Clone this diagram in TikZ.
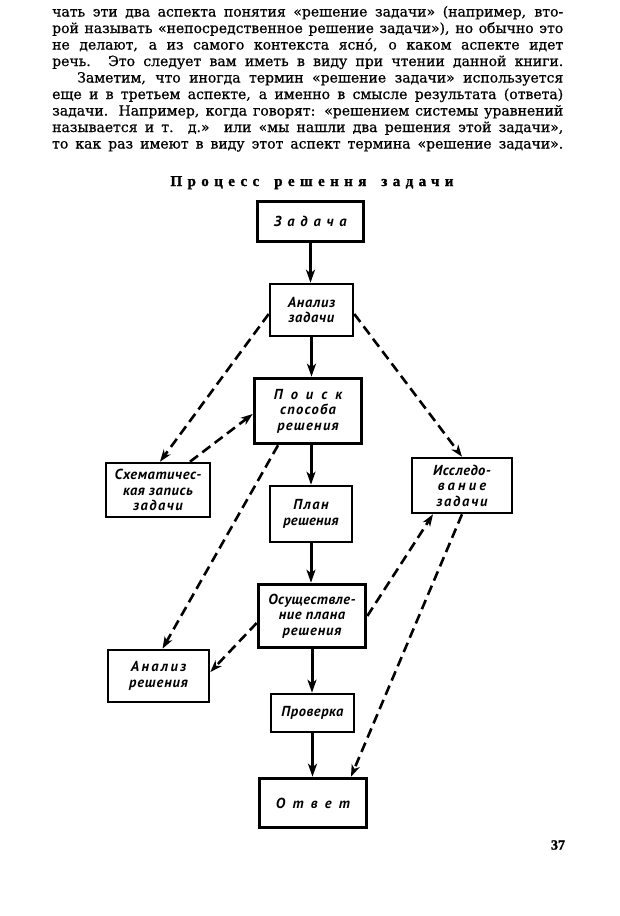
\documentclass[tikz,border=0pt]{standalone}
\usepackage{fontspec}
\setmainfont{DejaVu Serif}[FakeBold=0.7]
\newfontfamily\titlefont{Liberation Serif}[FakeBold=1.5]
\newfontfamily\boxfont{PT Sans}
\usetikzlibrary{arrows.meta}
\newcommand{\lsp}[2]{{\addfontfeature{LetterSpace=#1}#2}}
\begin{document}
\begin{tikzpicture}[x=1pt,y=-1pt,
  txt/.style={anchor=base west,inner sep=0pt,font=\fontsize{14}{16.5}\selectfont},
  blk/.style={draw,inner sep=0pt,align=center,font=\boxfont\bfseries\itshape\fontsize{14.5}{15.5}\selectfont},
  thickbox/.style={blk,line width=3.6pt},
  thinbox/.style={blk,line width=2.6pt},
  flow/.style={line width=3pt,-{Stealth[length=13pt,width=9pt,inset=3.5pt]}},
  aux/.style={line width=2.6pt,dash pattern=on 10pt off 5.5pt,-{Stealth[length=12pt,width=8.5pt,inset=3.5pt]}}
]
\useasboundingbox (0,0) rectangle (619,916);
\fill[white] (0,0) rectangle (619,916);

% body text
\node[txt] (l1) at (52,16.5) {\makebox[511pt][s]{чать эти два аспекта понятия «решение задачи» (например, вто-}};
\node[txt] (l2) at (52,33) {\makebox[511pt][s]{рой называть «непосредственное решение задачи»), но обычно это}};
\node[txt] (l3) at (52,49.5) {\makebox[511pt][s]{не делают, а из самого контекста яснó, о каком аспекте идет}};
\node[txt] (l4) at (52,66) {\makebox[511pt][s]{речь. Это следует вам иметь в виду при чтении данной книги.}};
\node[txt] (l5) at (77,82.5) {\makebox[486pt][s]{Заметим, что иногда термин «решение задачи» используется}};
\node[txt] (l6) at (52,99) {\makebox[511pt][s]{еще и в третьем аспекте, а именно в смысле результата (ответа)}};
\node[txt] (l7) at (52,115.5) {\makebox[511pt][s]{задачи. Например, когда говорят: «решением системы уравнений}};
\node[txt] (l8) at (52,132) {\makebox[511pt][s]{называется и т. д.» или «мы нашли два решения этой задачи»,}};
\node[txt] (l9) at (52,148.5) {\makebox[511pt][s]{то как раз имеют в виду этот аспект термина «решение задачи».}};

% title
\node[anchor=base,inner sep=0pt,font=\titlefont\bfseries\fontsize{15}{15}\selectfont] (title) at (312,186)
  {\lsp{36}{Процесс}\hspace{15pt}\lsp{36}{решення}\hspace{15pt}\lsp{36}{задачи}};

% boxes
\node[thickbox,minimum width=106pt,minimum height=40pt] (zad) at (310.5,221.5) {\lsp{40}{Задача}};
\node[thinbox,minimum width=83pt,minimum height=52pt] (anz) at (311.5,310) {\lsp{5}{Анализ}\\\lsp{5}{задачи}};
\node[thickbox,minimum width=107pt,minimum height=65pt] (poisk) at (308,411) {\lsp{55}{Поиск}\\\lsp{9}{способа}\\\lsp{9}{решения}};
\node[thinbox,minimum width=104pt,minimum height=54pt] (schem) at (158,490) {\lsp{4}{Схематичес-}\\\lsp{4}{кая запись}\\\lsp{10}{задачи}};
\node[thinbox,minimum width=82pt,minimum height=56pt] (plan) at (311,514) {\lsp{10}{План}\\\lsp{2}{решения}};
\node[thinbox,minimum width=100pt,minimum height=55pt] (issl) at (462,485.5) {\lsp{3}{Исследо-}\\\lsp{22}{вание}\\\lsp{12}{задачи}};
\node[thickbox,minimum width=107pt,minimum height=63pt] (osush) at (312,616) {\lsp{3}{Осуществле-}\\\lsp{4}{ние плана}\\\lsp{6}{решения}};
\node[thinbox,minimum width=101pt,minimum height=52pt] (anres) at (158.5,676) {\lsp{16}{Анализ}\\\lsp{6}{решения}};
\node[thinbox,minimum width=83pt,minimum height=38pt] (prov) at (312.5,713) {\lsp{4}{Проверка}};
\node[thickbox,minimum width=107pt,minimum height=49pt] (otvet) at (313,803) {\lsp{50}{Ответ}};

% page number
\node[inner sep=0pt,font=\titlefont\bfseries\fontsize{14}{14}\selectfont] (page) at (558,845) {37};

% solid flow
\draw[flow] (zad.south) -- (zad.south |- anz.north);
\draw[flow] (anz.south) -- (anz.south |- poisk.north);
\draw[flow] (plan.north |- poisk.south) -- (plan.north);
\draw[flow] (plan.south) -- (plan.south |- osush.north);
\draw[flow] (osush.south) -- (osush.south |- prov.north);
\draw[flow] (prov.south) -- (prov.south |- otvet.north);

% dashed
\draw[aux] ([yshift=-4pt]anz.west) -- ([xshift=2pt]schem.north);
\draw[aux] ([xshift=32pt]schem.north) -- ([yshift=-3pt]poisk.west);
\draw[aux] ([yshift=-4pt]anz.east) -- (issl.north);
\draw[aux] ([xshift=-30pt]poisk.south) -- ([xshift=4pt]anres.north);
\draw[aux] (osush.east) -- ([xshift=-29pt]issl.south);
\draw[aux] ([yshift=-7pt]osush.west) -- ([yshift=4pt]anres.east);
\draw[aux] (issl.south) -- ([xshift=38pt]otvet.north);
\end{tikzpicture}
\end{document}
